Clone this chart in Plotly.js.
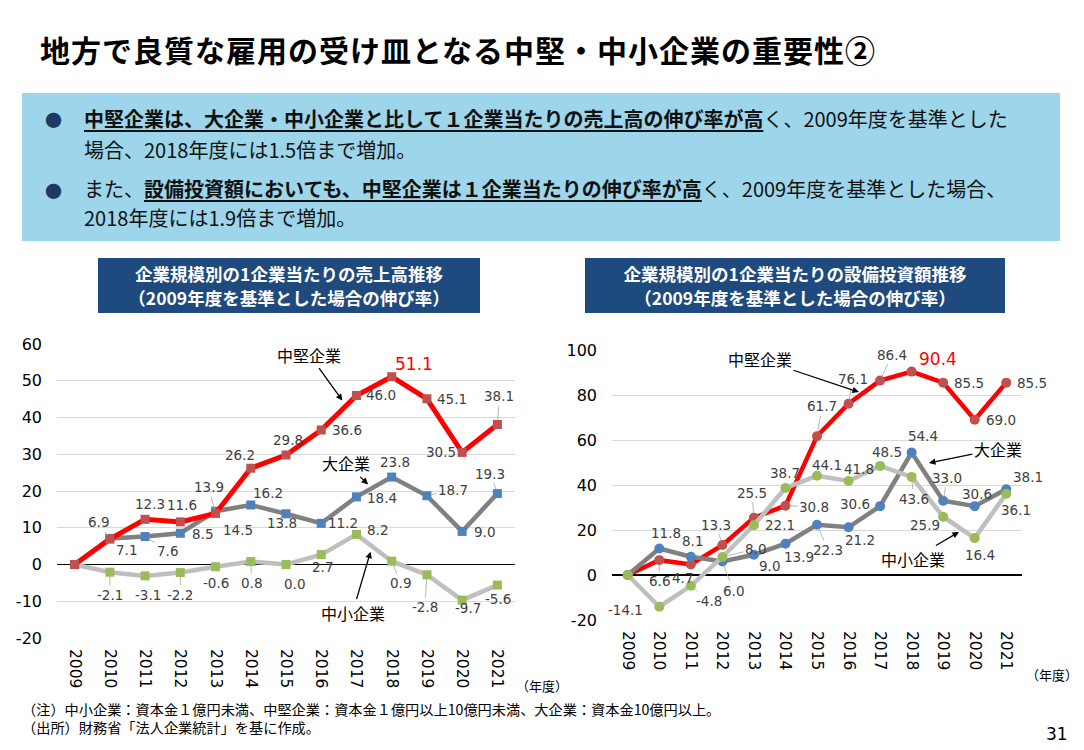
<!DOCTYPE html>
<html><head><meta charset="utf-8">
<script src="https://cdn.plot.ly/plotly-3.0.1.min.js"></script>
<style>
body{margin:0;width:1084px;height:750px;background:#fff;position:relative;overflow:hidden;font-family:'Noto Sans CJK JP','Noto Sans',sans-serif;}
.abs{position:absolute;white-space:nowrap;}
#title{left:40px;top:27px;font-size:30px;font-weight:bold;letter-spacing:1px;color:#000;}
#box{left:22px;top:93px;width:1038px;height:148px;background:#9DD5EA;}
.bul{color:#1F3864;font-size:17px;}
.txt{font-size:20px;color:#111;line-height:31px;}
.txt b{text-decoration:underline;text-decoration-thickness:2px;text-underline-offset:3px;}
.ctitle{background:#1F4A7D;color:#fff;font-weight:bold;font-size:17.5px;line-height:24px;text-align:center;padding-top:4px;box-sizing:border-box;height:55px;top:258px;}
.note{font-size:14.2px;color:#000;left:22px;}
</style></head>
<body>
<div id="title" class="abs">地方で良質な雇用の受け皿となる中堅・中小企業の重要性②</div>
<div id="box" class="abs"></div>
<div class="abs bul" style="left:45px;top:107px;">●</div>
<div class="abs txt" style="left:84px;top:103px;"><b>中堅企業は、大企業・中小企業と比して１企業当たりの売上高の伸び率が高</b>く、2009年度を基準とした<br>場合、2018年度には1.5倍まで増加。</div>
<div class="abs bul" style="left:45px;top:178px;">●</div>
<div class="abs txt" style="left:84px;top:174px;line-height:29px;">また、<b>設備投資額においても、中堅企業は１企業当たりの伸び率が高</b>く、2009年度を基準とした場合、<br>2018年度には1.9倍まで増加。</div>
<div class="abs ctitle" style="left:98px;width:382px;">企業規模別の1企業当たりの売上高推移<br>（2009年度を基準とした場合の伸び率）</div>
<div class="abs ctitle" style="left:585px;width:420px;">企業規模別の1企業当たりの設備投資額推移<br>（2009年度を基準とした場合の伸び率）</div>
<div id="chart" class="abs" style="left:0;top:320px;width:1084px;height:400px;"></div>
<div class="abs" style="left:516px;top:676px;font-size:13px;">（年度）</div>
<div class="abs" style="left:1026px;top:665px;font-size:13px;">（年度）</div>
<div class="abs note" style="top:699px;">（注）中小企業：資本金１億円未満、中堅企業：資本金１億円以上10億円未満、大企業：資本金10億円以上。</div>
<div class="abs note" style="top:717px;">（出所）財務省「法人企業統計」を基に作成。</div>
<div class="abs" style="left:1046px;top:724px;font-size:17px;font-family:'DejaVu Sans';">31</div>
<script>
// ---- data ----
const years = ['2009','2010','2011','2012','2013','2014','2015','2016','2017','2018','2019','2020','2021'];
const salesChuken = [0, 6.9, 12.3, 11.6, 13.9, 26.2, 29.8, 36.6, 46.0, 51.1, 45.1, 30.5, 38.1];
const salesLarge  = [0, 7.1, 7.6, 8.5, 14.5, 16.2, 13.8, 11.2, 18.4, 23.8, 18.7, 9.0, 19.3];
const salesSmall  = [0, -2.1, -3.1, -2.2, -0.6, 0.8, 0.0, 2.7, 8.2, 0.9, -2.8, -9.7, -5.6];
const capexChuken = [0, 6.6, 4.7, 13.3, 25.5, 30.8, 61.7, 76.1, 86.4, 90.4, 85.5, 69.0, 85.5];
const capexLarge  = [0, 11.8, 8.1, 6.0, 9.0, 13.9, 22.3, 21.2, 30.6, 54.4, 33.0, 30.6, 38.1];
const capexSmall  = [0, -14.1, -4.8, 8.0, 22.1, 38.7, 44.1, 41.8, 48.5, 43.6, 25.9, 16.4, 36.1];
const seriesNames = ['中堅企業', '大企業', '中小企業'];
const salesTicks = [-20, -10, 0, 10, 20, 30, 40, 50, 60];
const salesTickText = ['-20', '-10', '0', '10', '20', '30', '40', '50', '60'];
const capexTicks = [-20, 0, 20, 40, 60, 80, 100];
const capexTickText = ['-20', '0', '20', '40', '60', '80', '100'];

// ---- label placement (pixel offsets [dx, dy, leader]) ----
const offSalesChuken = [null,[-11,-17,1],[5,-15],[2,-17],[-7,-26,1],[-11,-13],[2,-15],[26,0],[25,0],[22,-13],[25,0],[-21,0],[2,-28,1]];
const offSalesLarge  = [null,[17,12],[22,14,1],[22,1],[22,19],[17,-12],[-4,9],[22,0],[26,1],[3,-15],[26,-6,1],[22,1],[-7,-20,1]];
const offSalesSmall  = [null,[0,23,1],[3,19],[0,22,1],[0,16],[1,21,1],[8,19],[1,12],[21,-4],[9,22,1],[-2,32,1],[6,8],[1,14]];
const offCapexChuken = [null,[0,21,1],[-8,14],[-6,-20,1],[-2,-25,1],[29,1,1],[5,-30,1],[4,-25,1],[12,-26,1],[26,-13],[26,0],[26,0],[26,0]];
const offCapexLarge  = [null,[7,-15],[2,-16],[11,29,1],[16,11],[14,13],[11,25,1],[11,13],[-25,-2],[11,-17],[4,-23,1],[2,-12],[22,-12]];
const offCapexSmall  = [null,[-34,3],[18,15,1],[33,-8,1],[26,0],[0,-15],[10,-11],[10,-12],[7,-14],[2,22,1],[-18,8],[5,17],[10,16]];
const peakIdx = 9;

const LBL = {family:'DejaVu Sans, Verdana, sans-serif', size:13.5, color:'#404040'};
function labels(vals, offs, xr, yr, isChuken) {
  const out = [];
  vals.forEach((v,i)=>{
    const o = offs[i]; if(!o) return;
    const peak = isChuken && i===peakIdx;
    out.push({x:i, y:v, xref:xr, yref:yr, text:v.toFixed(1), showarrow:true, ax:o[0], ay:o[1],
      arrowhead:0, arrowwidth:0.8, standoff:4, arrowcolor: o[2] ? '#A6A6A6' : 'rgba(0,0,0,0)',
      font: peak ? {family:LBL.family, size:17, color:'#FF0000'} : LBL});
  });
  return out;
}
function nameAnn(text, x, y, ax, ay, xr, yr) {
  return {x, y, xref:xr, yref:yr, text, showarrow:true, ax, ay, arrowhead:2, arrowsize:1, arrowwidth:1.3,
    arrowcolor:'#000', standoff:0, font:{family:'Noto Sans CJK JP', size:16, color:'#000'}};
}

const lineCol = ['#FF0000', '#808080', '#BFBFBF'];
const mkCol = ['#C0504D', '#4F81BD', '#9BBB59'];
function tr(vals, k, xa, ya, sym, msize, lw) {
  return {x: years.map((_,i)=>i), y: vals, xaxis:xa, yaxis:ya, type:'scatter', mode:'lines+markers', name: seriesNames[k],
    line:{color:lineCol[k], width:lw}, marker:{symbol:sym, size:msize, color:mkCol[k]}, hoverinfo:'skip'};
}

const traces = [
  tr(salesSmall, 2, 'x', 'y', 'square', 9, 4.5),
  tr(salesLarge, 1, 'x', 'y', 'square', 9, 4.5),
  tr(salesChuken, 0, 'x', 'y', 'square', 9, 5),
  tr(capexChuken, 0, 'x2', 'y2', 'circle', 10, 4.5),
  tr(capexLarge, 1, 'x2', 'y2', 'circle', 10, 4.5),
  tr(capexSmall, 2, 'x2', 'y2', 'circle', 10, 4.5),
];

const tickFont = {family:'DejaVu Sans, Verdana, sans-serif', size:15.5, color:'#000'};
function xax(domain, anchor) {
  return {domain, anchor, range:[-0.5,12.5], tickmode:'array', tickvals: years.map((_,i)=>i), ticktext: years,
    tickangle:90, tickfont:tickFont, showgrid:false, zeroline:false, showline:false, ticks:'', ticklabelstandoff:10, fixedrange:true};
}
function yax(domain, anchor, range, tv, tt, zw) {
  return {domain, anchor, range, tickmode:'array', tickvals:tv, ticktext:tt, tickfont:{...tickFont, size:16}, showgrid:true, gridcolor:'#D9D9D9', gridwidth:1,
    zeroline:true, zerolinecolor:'#000', zerolinewidth:zw, ticks:'', ticklabelstandoff:14, showline:false, fixedrange:true};
}

const annotations = [
  ...labels(salesChuken, offSalesChuken, 'x', 'y', true),
  ...labels(salesLarge, offSalesLarge, 'x', 'y', false),
  ...labels(salesSmall, offSalesSmall, 'x', 'y', false),
  ...labels(capexChuken, offCapexChuken, 'x2', 'y2', true),
  ...labels(capexLarge, offCapexLarge, 'x2', 'y2', false),
  ...labels(capexSmall, offCapexSmall, 'x2', 'y2', false),
  nameAnn(seriesNames[0], 7.6, 44.6, -33, -46, 'x', 'y'),
  nameAnn(seriesNames[1], 8.33, 21.8, -22, -21, 'x', 'y'),
  nameAnn(seriesNames[2], 8.4, 3.5, -18, 61, 'x', 'y'),
  nameAnn(seriesNames[0], 7.33, 81.3, -99, -33, 'x2', 'y2'),
  nameAnn(seriesNames[1], 9.55, 49.8, 69, -14, 'x2', 'y2'),
  nameAnn(seriesNames[2], 10.5, 19.1, -46, 27, 'x2', 'y2'),
];

const layout = {
  width:1084, height:400, margin:{l:0,r:0,t:0,b:0}, showlegend:false,
  paper_bgcolor:'rgba(0,0,0,0)', plot_bgcolor:'rgba(0,0,0,0)',
  xaxis: xax([57/1084, 515/1084], 'y'),
  yaxis: yax([1-318/400, 1-24/400], 'x', [-20,60], salesTicks, salesTickText, 1.5),
  xaxis2: xax([612/1084, 1022/1084], 'y2'),
  yaxis2: yax([1-300/400, 1-30/400], 'x2', [-20,100], capexTicks, capexTickText, 2.2),
  annotations
};
Plotly.newPlot('chart', traces, layout, {displayModeBar:false, staticPlot:true});
</script>
</body></html>
